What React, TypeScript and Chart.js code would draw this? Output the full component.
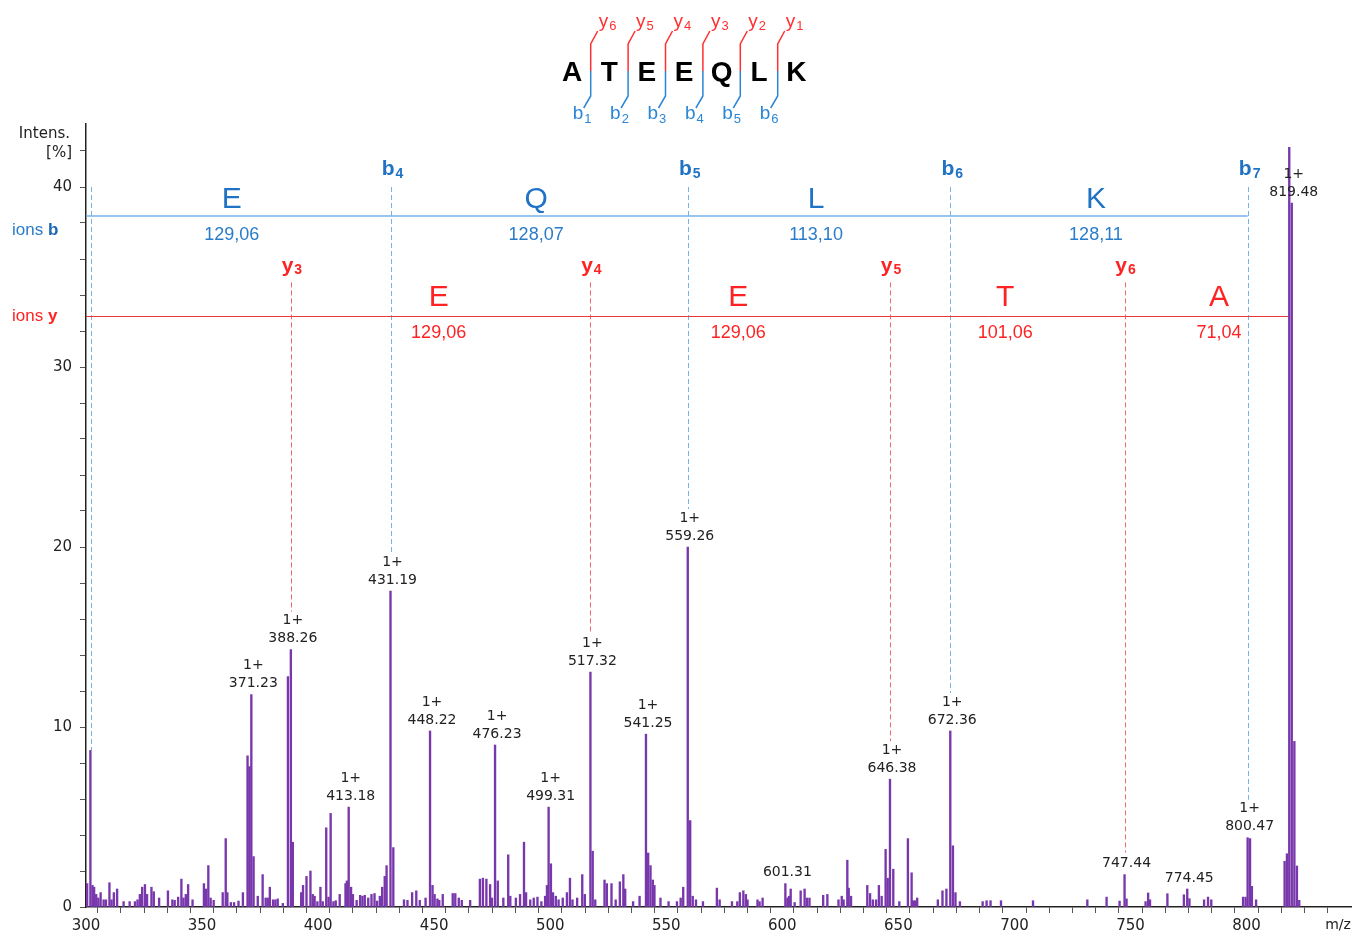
import React, { useEffect, useRef } from 'react';
import { Chart, registerables } from 'chart.js';

Chart.register(...registerables);

// ---- spectrum data (m/z, relative intensity %) ----
const peakMz: number[] = [
  299.2, 300.5, 301.9, 302.8, 303.5, 304.4, 305.3, 306.3, 307.6, 308.6, 310.1, 311.0, 312.0, 313.4,
  316.2, 318.8, 321.1, 322.2, 323.2, 324.2, 325.4, 326.3, 328.2, 329.2, 331.5, 335.3, 337.2, 338.2,
  339.7, 341.1, 342.0, 343.0, 344.0, 345.9, 350.8, 351.7, 352.7, 353.7, 355.0, 358.9, 360.2, 360.9,
  362.4, 363.8, 365.7, 367.6, 369.6, 370.4, 371.23, 372.2, 374.0, 376.1, 377.4, 378.3, 379.2, 380.6,
  381.6, 382.6, 384.8, 387.0, 388.26, 389.1, 392.7, 393.5, 395.0, 396.7, 397.7, 398.5, 399.7, 401.0,
  402.0, 403.5, 404.5, 405.4, 406.6, 407.6, 409.3, 411.8, 412.4, 413.18, 414.2, 415.0, 416.6, 418.1,
  419.1, 420.1, 421.6, 423.0, 424.3, 425.4, 426.6, 427.6, 428.7, 429.5, 431.19, 432.4, 437.0, 438.5,
  440.5, 442.3, 443.8, 446.3, 448.22, 449.3, 450.2, 451.4, 452.2, 453.7, 458.0, 459.1, 460.6, 461.9,
  465.5, 469.7, 471.0, 472.5, 474.1, 474.9, 476.23, 477.4, 479.8, 481.9, 482.8, 485.2, 487.0, 488.7,
  489.6, 491.4, 492.9, 494.5, 496.2, 497.8, 498.6, 499.31, 500.3, 501.2, 502.4, 503.6, 505.4, 507.2,
  508.5, 509.6, 511.6, 513.8, 514.9, 517.32, 518.3, 519.4, 523.4, 524.4, 526.4, 528.2, 530.0, 531.5,
  532.3, 535.7, 538.5, 541.25, 542.2, 543.2, 544.2, 544.9, 547.5, 551.0, 554.6, 556.2, 557.3, 559.26,
  560.3, 561.4, 562.8, 565.8, 571.8, 573.0, 578.3, 580.6, 581.7, 583.2, 584.3, 585.0, 589.3, 590.2,
  591.5, 601.31, 602.2, 602.9, 603.6, 605.3, 607.9, 609.6, 610.6, 611.7, 617.6, 619.4, 624.2, 625.6,
  626.4, 628.0, 628.6, 629.6, 636.6, 637.8, 639.0, 640.4, 641.6, 642.8, 644.5, 645.4, 646.38, 647.8,
  650.4, 654.1, 655.7, 656.4, 657.2, 658.1, 667.0, 669.0, 670.7, 672.36, 673.5, 674.6, 676.5, 686.3,
  688.0, 689.7, 694.2, 708.0, 731.4, 739.7, 745.3, 747.44, 748.3, 756.5, 757.6, 758.4, 765.9, 773.0,
  774.45, 775.4, 781.7, 783.4, 784.8, 798.5, 799.6, 800.47, 801.5, 802.3, 804.1, 816.4, 817.4, 818.4,
  819.48, 820.6, 821.7, 822.7,
];
const peakInt: number[] = [
  0.9, 1.3, 8.7, 1.2, 1.1, 0.7, 0.5, 0.8, 0.4, 0.4, 1.35, 0.4, 0.8, 1.0,
  0.3, 0.3, 0.3, 0.4, 0.7, 1.1, 1.25, 0.7, 1.1, 0.85, 0.5, 0.9, 0.4, 0.37,
  0.55, 1.55, 0.5, 0.7, 1.25, 0.4, 1.3, 1.0, 2.3, 0.5, 0.37, 0.8, 3.8, 0.8,
  0.25, 0.25, 0.33, 0.8, 8.4, 7.8, 11.8, 2.8, 0.6, 1.8, 0.5, 0.5, 1.1, 0.4,
  0.4, 0.45, 0.2, 12.8, 14.3, 3.6, 0.8, 1.2, 1.7, 2.0, 0.7, 0.6, 0.3, 1.1,
  0.3, 4.4, 0.55, 5.2, 0.3, 0.35, 0.7, 1.3, 1.45, 5.55, 1.1, 0.7, 0.37, 0.65,
  0.6, 0.65, 0.5, 0.7, 0.75, 0.33, 0.6, 1.1, 1.7, 2.3, 17.55, 3.3, 0.4, 0.37,
  0.8, 0.9, 0.37, 0.5, 9.78, 1.2, 0.7, 0.45, 0.37, 0.7, 0.75, 0.75, 0.5, 0.37,
  0.37, 1.55, 1.6, 1.55, 1.25, 0.5, 9.0, 1.45, 0.5, 2.9, 0.6, 0.5, 0.7, 3.6,
  0.8, 0.4, 0.5, 0.55, 0.3, 0.6, 1.2, 5.55, 2.4, 0.8, 0.6, 0.4, 0.5, 0.8,
  1.6, 0.4, 0.5, 1.8, 0.7, 13.05, 3.1, 0.4, 1.5, 1.3, 1.3, 0.4, 1.4, 1.8,
  1.0, 0.3, 0.6, 9.6, 3.0, 2.3, 1.5, 1.2, 0.5, 0.3, 0.3, 0.5, 1.1, 20.0,
  4.8, 0.6, 0.4, 0.3, 1.05, 0.4, 0.3, 0.3, 0.8, 0.9, 0.7, 0.4, 0.4, 0.3,
  0.5, 1.3, 0.5, 0.6, 1.0, 0.25, 0.9, 1.0, 0.5, 0.5, 0.65, 0.7, 0.4, 0.6,
  0.4, 2.6, 1.05, 0.6, 1.2, 0.75, 0.4, 0.4, 1.2, 0.6, 3.2, 1.6, 7.1, 2.1,
  0.3, 3.8, 1.9, 0.35, 0.35, 0.5, 0.4, 0.9, 1.0, 9.78, 3.4, 0.8, 0.3, 0.3,
  0.35, 0.35, 0.35, 0.35, 0.4, 0.55, 0.33, 1.8, 0.45, 0.3, 0.78, 0.4, 0.74, 0.68,
  1.0, 0.46, 0.4, 0.55, 0.4, 0.55, 0.55, 3.85, 3.8, 1.15, 0.4, 2.54, 2.96, 42.2,
  39.1, 9.2, 2.28, 0.37,
];

// annotated peaks
const labelMz: number[] = [371.23, 388.26, 413.18, 431.19, 448.22, 476.23, 499.31, 517.32, 541.25, 559.26, 601.31, 646.38, 672.36, 747.44, 774.45, 800.47, 819.48];
const labelCharge: string[] = ['1+', '1+', '1+', '1+', '1+', '1+', '1+', '1+', '1+', '1+', '', '1+', '1+', '', '', '1+', '1+'];

// b-ion ladder
const bIonMz: number[] = [302.13, 431.19, 559.26, 672.36, 800.47];
const bIonNum: string[] = ['', '4', '5', '6', '7'];
const bResidues: string[] = ['E', 'Q', 'L', 'K'];
const bDeltas: string[] = ['129,06', '128,07', '113,10', '128,11'];
// y-ion ladder
const yIonMz: number[] = [388.26, 517.32, 646.38, 747.44];
const yIonNum: string[] = ['3', '4', '5', '6'];
const yLadderEnd = 818.48;
const yResidues: string[] = ['E', 'E', 'T', 'A'];
const yDeltas: string[] = ['129,06', '129,06', '101,06', '71,04'];

// peptide sequence
const sequence: string[] = ['A', 'T', 'E', 'E', 'Q', 'L', 'K'];
const topYLabels: string[] = ['6', '5', '4', '3', '2', '1'];
const bottomBLabels: string[] = ['1', '2', '3', '4', '5', '6'];

// axis ranges
const X_MIN = 300, X_MAX = 845, Y_MIN = 0, Y_MAX = 43.5;
const B_LINE_Y = 38.4, Y_LINE_Y = 32.83, B_DASH_TOP = 40, Y_DASH_TOP = 34.7;

const BLUE = '#1f72c4';
const BLUE_LIGHT = '#74b2e8';
const RED = '#ff2222';
const RED_DASH = '#f06a6a';
const TXT = '#222';
const SANS = '"Liberation Sans", Arial, sans-serif';
const DV = '"DejaVu Sans", Verdana, sans-serif';

function drawSub(ctx: CanvasRenderingContext2D, base: string, sub: string, x: number, y: number, color: string, baseFont: string, subFont: string, align: 'left' | 'center', subDy: number) {
  ctx.font = baseFont;
  const w1 = ctx.measureText(base).width;
  ctx.font = subFont;
  const w2 = ctx.measureText(sub).width;
  const left = align === 'center' ? x - (w1 + w2 + 1) / 2 : x;
  ctx.textAlign = 'left';
  ctx.textBaseline = 'middle';
  ctx.fillStyle = color;
  ctx.font = baseFont;
  ctx.fillText(base, left, y);
  ctx.font = subFont;
  ctx.fillText(sub, left + w1 + 1, y + subDy);
}

function intensityAt(mz: number): number {
  let best = 0, bd = Infinity;
  peakMz.forEach((m, i) => {
    const d = Math.abs(m - mz);
    if (d < bd) { bd = d; best = peakInt[i]; }
  });
  return best;
}

const annotPlugin = {
  id: 'annot',
  beforeDatasetsDraw(chart: any) {
    const { ctx, scales, chartArea } = chart;
    const xs = scales.x, ys = scales.y;
    ctx.save();
    ctx.lineWidth = 1;
    ctx.setLineDash([5, 3]);
    ctx.strokeStyle = BLUE_LIGHT;
    bIonMz.forEach((mz) => {
      const px = Math.round(xs.getPixelForValue(mz)) + 0.5;
      const idx = labelMz.indexOf(mz);
      const top = ys.getPixelForValue(intensityAt(mz));
      const end = idx >= 0 ? top - (labelCharge[idx] ? 38 : 22) : top;
      ctx.beginPath();
      ctx.moveTo(px, ys.getPixelForValue(B_DASH_TOP));
      ctx.lineTo(px, end);
      ctx.stroke();
    });
    ctx.strokeStyle = RED_DASH;
    yIonMz.forEach((mz) => {
      const px = Math.round(xs.getPixelForValue(mz)) + 0.5;
      const idx = labelMz.indexOf(mz);
      const top = ys.getPixelForValue(intensityAt(mz));
      const end = idx >= 0 ? top - (labelCharge[idx] ? 38 : 22) : top;
      ctx.beginPath();
      ctx.moveTo(px, ys.getPixelForValue(Y_DASH_TOP));
      ctx.lineTo(px, end);
      ctx.stroke();
    });
    ctx.setLineDash([]);
    ctx.strokeStyle = BLUE_LIGHT;
    ctx.lineWidth = 1.5;
    const by = Math.round(ys.getPixelForValue(B_LINE_Y));
    ctx.beginPath();
    ctx.moveTo(chartArea.left, by);
    ctx.lineTo(xs.getPixelForValue(bIonMz[bIonMz.length - 1]), by);
    ctx.stroke();
    ctx.strokeStyle = '#e83838';
    ctx.lineWidth = 1;
    const ry = Math.round(ys.getPixelForValue(Y_LINE_Y)) + 0.5;
    ctx.beginPath();
    ctx.moveTo(chartArea.left, ry);
    ctx.lineTo(xs.getPixelForValue(yLadderEnd), ry);
    ctx.stroke();
    ctx.restore();
  },
  afterDatasetsDraw(chart: any) {
    const { ctx, scales, chartArea } = chart;
    const xs = scales.x, ys = scales.y;
    ctx.save();
    ctx.fillStyle = TXT;
    ctx.textAlign = 'center';
    ctx.textBaseline = 'middle';
    ctx.font = '14px ' + DV;
    labelMz.forEach((mz, i) => {
      const px = xs.getPixelForValue(mz) + 2;
      const top = ys.getPixelForValue(Math.min(intensityAt(mz), Y_MAX));
      ctx.fillText(mz.toFixed(2), px, top - 11);
      if (labelCharge[i]) ctx.fillText(labelCharge[i], px, top - 29);
    });
    const bTop = ys.getPixelForValue(B_DASH_TOP);
    const bLine = ys.getPixelForValue(B_LINE_Y);
    bIonMz.forEach((mz, i) => {
      if (!bIonNum[i]) return;
      drawSub(ctx, 'b', bIonNum[i], xs.getPixelForValue(mz) + 2, bTop - 18, BLUE, 'bold 21px ' + SANS, 'bold 14px ' + SANS, 'center', 5);
    });
    ctx.textAlign = 'center';
    ctx.textBaseline = 'middle';
    for (let i = 0; i < bResidues.length; i++) {
      let cx = (xs.getPixelForValue(bIonMz[i]) + xs.getPixelForValue(bIonMz[i + 1])) / 2 - 3;
      if (i === 0) cx -= 6;
      ctx.fillStyle = BLUE;
      ctx.font = '30px ' + SANS;
      ctx.fillText(bResidues[i], cx, bLine - 16);
      ctx.fillStyle = '#2a7cc8';
      ctx.font = '18px ' + SANS;
      ctx.fillText(bDeltas[i], cx, bLine + 19);
    }
    const yTop = ys.getPixelForValue(Y_DASH_TOP);
    const yLine = ys.getPixelForValue(Y_LINE_Y);
    yIonMz.forEach((mz, i) => {
      drawSub(ctx, 'y', yIonNum[i], xs.getPixelForValue(mz) + 1, yTop - 16, RED, 'bold 21px ' + SANS, 'bold 14px ' + SANS, 'center', 4);
    });
    const yEdges = [...yIonMz, yLadderEnd];
    ctx.textAlign = 'center';
    ctx.textBaseline = 'middle';
    for (let i = 0; i < yResidues.length; i++) {
      let cx = (xs.getPixelForValue(yEdges[i]) + xs.getPixelForValue(yEdges[i + 1])) / 2 - 2;
      if (i === yResidues.length - 1) cx += 14;
      ctx.fillStyle = RED;
      ctx.font = '30px ' + SANS;
      ctx.fillText(yResidues[i], cx, yLine - 18);
      ctx.font = '18px ' + SANS;
      ctx.fillText(yDeltas[i], cx, yLine + 17);
    }
    ctx.textBaseline = 'middle';
    ctx.textAlign = 'left';
    ctx.font = '17px ' + SANS;
    const wIons = ctx.measureText('ions ').width;
    ctx.fillStyle = '#2a7cc8';
    ctx.fillText('ions ', 12, bLine + 15);
    ctx.font = 'bold 17px ' + SANS;
    ctx.fillStyle = '#1a68b8';
    ctx.fillText('b', 12 + wIons, bLine + 15);
    ctx.font = '17px ' + SANS;
    ctx.fillStyle = RED;
    ctx.fillText('ions ', 12, yLine);
    ctx.font = 'bold 17px ' + SANS;
    ctx.fillText('y', 12 + wIons, yLine);
    ctx.fillStyle = TXT;
    ctx.font = '15px ' + DV;
    ctx.textAlign = 'right';
    ctx.fillText('Intens.', 70, 134);
    ctx.fillText('[%]', 72, 153);
    ctx.textAlign = 'center';
    ctx.font = '14px ' + DV;
    ctx.fillText('m/z', chartArea.right - 13, 925);

    const x0 = 572, step = 37.4, cy = 71;
    ctx.fillStyle = '#000';
    ctx.font = 'bold 28px ' + SANS;
    ctx.textAlign = 'center';
    ctx.textBaseline = 'alphabetic';
    sequence.forEach((aa, i) => ctx.fillText(aa, x0 + i * step, 81));
    ctx.lineWidth = 1.5;
    for (let i = 0; i < sequence.length - 1; i++) {
      const mx = x0 + (i + 0.5) * step;
      ctx.strokeStyle = '#ff3030';
      ctx.beginPath();
      ctx.moveTo(mx, cy);
      ctx.lineTo(mx, 44);
      ctx.lineTo(mx + 7, 31);
      ctx.stroke();
      ctx.strokeStyle = '#2b86d6';
      ctx.beginPath();
      ctx.moveTo(mx, cy);
      ctx.lineTo(mx, 96);
      ctx.lineTo(mx - 7, 108);
      ctx.stroke();
      drawSub(ctx, 'y', topYLabels[i], mx + 8, 22, '#ff3030', '19px ' + SANS, '13px ' + SANS, 'left', 4);
      drawSub(ctx, 'b', bottomBLabels[i], mx - 18, 114, '#2b86d6', '19px ' + SANS, '13px ' + SANS, 'left', 5);
    }
    ctx.restore();
  },
};

export default function App() {
  const ref = useRef<HTMLCanvasElement | null>(null);
  useEffect(() => {
    if (!ref.current) return;
    const points = peakMz.map((m, i) => ({ x: m, y: peakInt[i] }));
    const chart = new Chart(ref.current, {
      type: 'bar',
      data: {
        datasets: [
          {
            data: points as any,
            backgroundColor: '#7838ac',
            borderWidth: 0,
            barThickness: 1.7,
            grouped: false,
          } as any,
        ],
      },
      options: {
        animation: false,
        responsive: false,
        maintainAspectRatio: false,
        layout: { padding: { top: 124, left: 0, right: 3, bottom: 0 } },
        plugins: { legend: { display: false }, tooltip: { enabled: false }, title: { display: false } },
        scales: {
          x: {
            type: 'linear',
            min: X_MIN,
            max: X_MAX,
            offset: false,
            afterFit: (s: any) => { s.height = 28; },
            afterBuildTicks: (s: any) => { s.ticks = s.ticks.filter((t: any) => Math.abs(t.value / 10 - Math.round(t.value / 10)) < 1e-6); },
            ticks: {
              stepSize: 10,
              autoSkip: false,
              maxRotation: 0,
              padding: 4,
              color: TXT,
              font: { family: 'DejaVu Sans', size: 15 },
              callback: (v: any) => (Number(v) % 50 === 0 && Number(v) <= 800 ? String(v) : ''),
            },
            grid: { display: true, drawOnChartArea: false, drawTicks: true, tickLength: 6, color: '#555' },
            border: { display: true, color: '#222', width: 1.5 },
          },
          y: {
            type: 'linear',
            min: Y_MIN,
            max: Y_MAX,
            afterFit: (s: any) => { s.width = 86; },
            afterBuildTicks: (s: any) => { s.ticks = s.ticks.filter((t: any) => Math.abs(t.value / 2 - Math.round(t.value / 2)) < 1e-6); },
            ticks: {
              stepSize: 2,
              autoSkip: false,
              padding: 8,
              color: TXT,
              font: { family: 'DejaVu Sans', size: 15 },
              callback: (v: any) => (Number(v) % 10 === 0 ? String(v) : ''),
            },
            grid: { display: true, drawOnChartArea: false, drawTicks: true, tickLength: 6, color: '#555' },
            border: { display: true, color: '#222', width: 1.5 },
          },
        },
      } as any,
      plugins: [annotPlugin as any],
    });
    return () => chart.destroy();
  }, []);
  return (
    <div style={{ position: 'fixed', left: 0, top: 0, width: 1354, height: 935, background: '#fff' }}>
      <canvas ref={ref} width={1354} height={935} style={{ display: 'block' }} />
    </div>
  );
}
